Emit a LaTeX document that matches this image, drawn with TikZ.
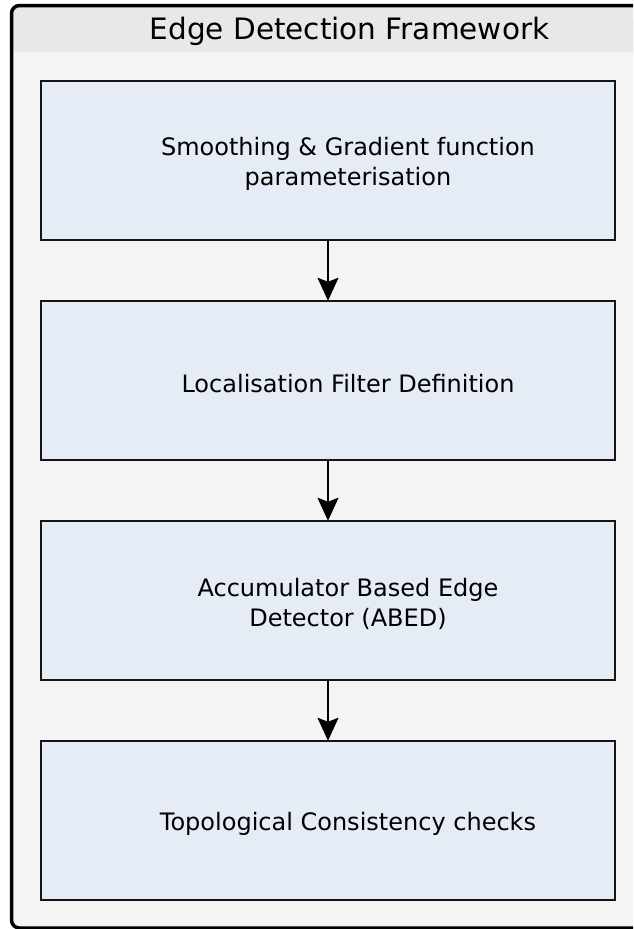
\documentclass[tikz,border=0pt]{standalone}
\usepackage{fontspec}
\setmainfont{DejaVu Sans}
\usetikzlibrary{arrows.meta}
\definecolor{panelbg}{HTML}{F4F4F4}
\definecolor{titlebg}{HTML}{E8E8E8}
\definecolor{stepfill}{HTML}{E5ECF6}
\definecolor{stepline}{HTML}{151515}
\tikzset{
  stepbox/.style={draw=stepline, fill=stepfill, line width=2.5pt,
    minimum width=574pt, minimum height=159pt, inner sep=0pt},
  steptext/.style={align=center, font=\fontsize{24}{30.5}\selectfont,
    xshift=20pt, yshift=-3.5pt, inner sep=0pt},
  flow/.style={line width=2pt, draw=black,
    -{Stealth[length=23pt, width=21pt, inset=4pt]}, shorten >=-1pt}
}
\begin{document}
\begin{tikzpicture}[x=1pt, y=-1pt]
  \useasboundingbox (0,0) rectangle (633,929);
  \clip (0,0) rectangle (633,929);
  % framework panel with title band
  \fill[panelbg, rounded corners=8pt] (11.5,5.5) rectangle (690,928);
  \fill[titlebg, rounded corners=8pt] (11.5,5.5) -- (690,5.5) -- (690,52) -- (11.5,52) -- cycle;
  \fill[titlebg] (11.5,20) rectangle (690,52);
  \draw[line width=3.5pt, rounded corners=8pt] (11.5,5.5) rectangle (690,928);
  \node[font=\fontsize{29.5}{34}\selectfont] (title) at (349.5,31.5) {Edge Detection Framework};
  % processing stages
  \node[stepbox, label={[steptext]center:{Smoothing \& Gradient function\\parameterisation}}] (s1) at (328,160.5) {};
  \node[stepbox, label={[steptext]center:{Localisation Filter Definition}}] (s2) at (328,380.5) {};
  \node[stepbox, label={[steptext]center:{Accumulator Based Edge\\Detector (ABED)}}] (s3) at (328,600.5) {};
  \node[stepbox, label={[steptext]center:{Topological Consistency checks}}] (s4) at (328,820.5) {};
  % connectors
  \draw[flow] (s1.south) -- (s2.north);
  \draw[flow] (s2.south) -- (s3.north);
  \draw[flow] (s3.south) -- (s4.north);
\end{tikzpicture}
\end{document}
